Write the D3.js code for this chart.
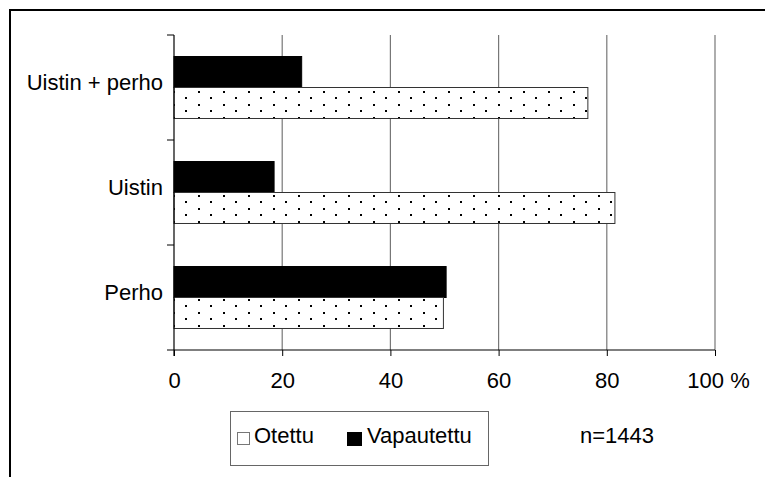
<!DOCTYPE html>
<html><head><meta charset="utf-8">
<script src="https://cdn.jsdelivr.net/npm/d3@7"></script>
<style>body{margin:0;background:#fff}svg{display:block}text{font-family:Arial,"Liberation Sans",sans-serif;fill:#000}</style>
</head><body><svg id="c" width="765" height="477"></svg>
<script>
const categories = ["Uistin + perho", "Uistin", "Perho"];
const series = ["Vapautettu", "Otettu"];
const vapautettu = [23.6, 18.5, 50.3];
const otettu = [76.5, 81.5, 49.8];
const xTicks = [0, 20, 40, 60, 80, 100];
const xTickLabels = ["0", "20", "40", "60", "80", "100 %"];
const note = "n=1443";

const svg = d3.select("#c");
const defs = svg.append("defs");
const pat = defs.append("pattern").attr("id","dots").attr("patternUnits","userSpaceOnUse")
  .attr("x",173).attr("y",0).attr("width",25).attr("height",13);
pat.append("rect").attr("width",25).attr("height",13).attr("fill","#fff");
pat.append("rect").attr("x",0).attr("y",0).attr("width",2).attr("height",2).attr("fill","#000");
pat.append("rect").attr("x",12).attr("y",6).attr("width",2).attr("height",2).attr("fill","#000");

// outer frame
svg.append("rect").attr("x",10).attr("y",10).attr("width",900).attr("height",900)
  .attr("fill","none").attr("stroke","#000").attr("stroke-width",2);

const x = d3.scaleLinear().domain([0,100]).range([174,715]);
const y = d3.scaleBand().domain(categories).range([35,350]).padding(0);
const ys = d3.scaleBand().domain(series).range([0,y.bandwidth()]).paddingInner(0).paddingOuter(0.694);

// gridlines
svg.append("g").selectAll("line").data(xTicks.filter(d=>d>0)).join("line")
  .attr("x1",d=>x(d)).attr("x2",d=>x(d)).attr("y1",35).attr("y2",350)
  .attr("stroke","#777").attr("stroke-width",1.2);

const rows = categories.map((c,i)=>({c, v:[{s:"Vapautettu",val:vapautettu[i]},{s:"Otettu",val:otettu[i]}]}));
const g = svg.append("g");
rows.forEach(r=>{
  r.v.forEach(d=>{
    g.append("rect").attr("x",x(0)).attr("y",y(r.c)+ys(d.s))
      .attr("width",x(d.val)-x(0)).attr("height",ys.bandwidth())
      .attr("fill", d.s==="Vapautettu" ? "#000" : "url(#dots)")
      .attr("stroke", d.s==="Vapautettu" ? "#000" : "#333").attr("stroke-width",1);
  });
});

// x axis
const xAxis = d3.axisBottom(x).tickValues(xTicks).tickSize(6).tickPadding(15)
  .tickFormat((d,i)=>xTickLabels[i]);
const gx = svg.append("g").attr("transform","translate(0,350)").call(xAxis);
gx.select(".domain").remove();
gx.selectAll(".tick line").attr("stroke","#000");
gx.selectAll(".tick text").attr("font-size",22).attr("dy",0).attr("y",37.5)
  .attr("dx",(d)=>d===100?3:0)
  .attr("font-family","Arial, 'Liberation Sans', sans-serif");
svg.append("line").attr("x1",167).attr("x2",x(100)).attr("y1",350).attr("y2",350).attr("stroke","#000").attr("stroke-width",1.2);

// y axis
svg.append("line").attr("x1",174).attr("x2",174).attr("y1",35).attr("y2",356).attr("stroke","#000").attr("stroke-width",1.2);
svg.append("g").selectAll("line").data(categories).join("line")
  .attr("x1",167).attr("x2",174).attr("y1",d=>y(d)).attr("y2",d=>y(d)).attr("stroke","#000");
svg.append("g").selectAll("text").data(categories).join("text")
  .attr("x",163).attr("y",d=>y(d)+y.bandwidth()/2+2.5).attr("text-anchor","end")
  .attr("font-size",22).text(d=>d);

// legend
svg.append("rect").attr("x",230.5).attr("y",411.5).attr("width",258).attr("height",54)
  .attr("fill","#fff").attr("stroke","#666").attr("stroke-width",1);
const leg = [{s:"Otettu",x:237},{s:"Vapautettu",x:347}];
leg.forEach(l=>{
  svg.append("rect").attr("x",l.x+0.5).attr("y",432.5).attr("width",l.s==="Otettu"?12:14).attr("height",l.s==="Otettu"?12:13)
    .attr("fill",l.s==="Otettu"?"#fff":"#000").attr("stroke",l.s==="Otettu"?"#777":"#000");
  svg.append("text").attr("x",l.x+(l.s==="Otettu"?17:20)).attr("y",443).attr("font-size",22).text(l.s);
});
svg.append("text").attr("x",580).attr("y",443).attr("font-size",22).text(note);
</script></body></html>
